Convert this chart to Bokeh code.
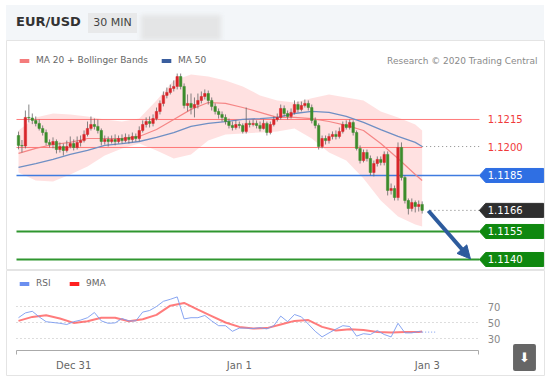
from bokeh.plotting import figure
from bokeh.models import (ColumnDataSource, Range1d, Legend, LegendItem, Label, Arrow,
                          NormalHead, FixedTicker, LinearAxis, Div)
from bokeh.layouts import column
from bokeh.embed import file_html
from bokeh.resources import INLINE
from bokeh.core.properties import value

FONT = "DejaVu Sans"

# ---------------- data (EUR/USD, 30 min candles) ----------------
first_open = 1.12064
close = [
    1.12011, 1.12008, 1.12161, 1.12158, 1.12145, 1.12129, 1.12102, 1.12080, 1.12027, 1.12016,
    1.12032, 1.11989, 1.12005, 1.11984, 1.12005, 1.12021, 1.12000, 1.12027, 1.12037, 1.12070,
    1.12102, 1.12123, 1.12113, 1.12091, 1.12032, 1.12043, 1.12032, 1.12043, 1.12032, 1.12048,
    1.12037, 1.12054, 1.12043, 1.12059, 1.12048, 1.12091, 1.12123, 1.12139, 1.12129, 1.12155,
    1.12193, 1.12236, 1.12279, 1.12295, 1.12316, 1.12327, 1.12380, 1.12327, 1.12225, 1.12236,
    1.12214, 1.12230, 1.12252, 1.12273, 1.12289, 1.12252, 1.12220, 1.12193, 1.12177, 1.12161,
    1.12139, 1.12118, 1.12107, 1.12123, 1.12118, 1.12086, 1.12129, 1.12123, 1.12129, 1.12118,
    1.12102, 1.12129, 1.12080, 1.12123, 1.12150, 1.12161, 1.12209, 1.12182, 1.12166, 1.12188,
    1.12230, 1.12204, 1.12225, 1.12236, 1.12214, 1.12145, 1.12118, 1.12005, 1.12048, 1.12037,
    1.12059, 1.12070, 1.12059, 1.12086, 1.12123, 1.12107, 1.12134, 1.12080, 1.11995, 1.11930,
    1.11973, 1.11941, 1.11866, 1.11914, 1.11936, 1.11920, 1.11963, 1.11770, 1.11780, 1.11732,
    1.12000, 1.11839, 1.11716, 1.11673, 1.11705, 1.11684, 1.11695, 1.11663]
high = [
    1.12085, 1.12040, 1.12198, 1.12230, 1.12182, 1.12166, 1.12150, 1.12118, 1.12096, 1.12043,
    1.12054, 1.12043, 1.12027, 1.12021, 1.12037, 1.12059, 1.12043, 1.12059, 1.12064, 1.12091,
    1.12139, 1.12166, 1.12155, 1.12150, 1.12102, 1.12064, 1.12059, 1.12064, 1.12070, 1.12064,
    1.12070, 1.12075, 1.12070, 1.12080, 1.12075, 1.12113, 1.12145, 1.12161, 1.12166, 1.12177,
    1.12214, 1.12252, 1.12300, 1.12321, 1.12337, 1.12359, 1.12396, 1.12396, 1.12343, 1.12284,
    1.12289, 1.12268, 1.12289, 1.12300, 1.12311, 1.12305, 1.12268, 1.12236, 1.12209, 1.12193,
    1.12177, 1.12155, 1.12139, 1.12145, 1.12139, 1.12129, 1.12214, 1.12145, 1.12150, 1.12145,
    1.12139, 1.12150, 1.12139, 1.12139, 1.12166, 1.12182, 1.12230, 1.12225, 1.12198, 1.12209,
    1.12252, 1.12246, 1.12246, 1.12257, 1.12252, 1.12230, 1.12161, 1.12129, 1.12064, 1.12064,
    1.12075, 1.12086, 1.12091, 1.12107, 1.12139, 1.12145, 1.12150, 1.12145, 1.12091, 1.12011,
    1.11989, 1.11989, 1.11957, 1.11930, 1.11952, 1.11952, 1.11979, 1.11979, 1.11807, 1.11796,
    1.12027, 1.12027, 1.11850, 1.11727, 1.11727, 1.11716, 1.11716, 1.11711]
low = [
    1.11990, 1.11973, 1.11995, 1.12134, 1.12125, 1.12113, 1.12091, 1.12064, 1.12011, 1.12000,
    1.11995, 1.11968, 1.11973, 1.11957, 1.11973, 1.11995, 1.11984, 1.11989, 1.12005, 1.12027,
    1.12059, 1.12091, 1.12096, 1.12075, 1.12011, 1.12016, 1.12005, 1.12021, 1.12011, 1.12021,
    1.12021, 1.12027, 1.12021, 1.12027, 1.12032, 1.12032, 1.12080, 1.12107, 1.12107, 1.12113,
    1.12145, 1.12177, 1.12220, 1.12263, 1.12284, 1.12300, 1.12311, 1.12311, 1.12209, 1.12193,
    1.12177, 1.12161, 1.12209, 1.12236, 1.12257, 1.12230, 1.12198, 1.12177, 1.12155, 1.12139,
    1.12123, 1.12102, 1.12091, 1.12096, 1.12102, 1.12075, 1.12075, 1.12107, 1.12113, 1.12102,
    1.12086, 1.12096, 1.12064, 1.12070, 1.12113, 1.12139, 1.12150, 1.12166, 1.12150, 1.12155,
    1.12177, 1.12188, 1.12193, 1.12214, 1.12198, 1.12129, 1.12102, 1.11989, 1.11995, 1.12016,
    1.12021, 1.12043, 1.12043, 1.12048, 1.12075, 1.12096, 1.12096, 1.12064, 1.11984, 1.11914,
    1.11920, 1.11925, 1.11850, 1.11845, 1.11898, 1.11904, 1.11904, 1.11743, 1.11748, 1.11716,
    1.11716, 1.11823, 1.11700, 1.11641, 1.11657, 1.11652, 1.11657, 1.11646]

# moving averages / Bollinger bands, read every 5 candles
ma_idx = [0, 5, 10, 15, 20, 25, 30, 35, 40, 45, 50, 55, 60, 65, 70, 75, 80, 85, 90, 95,
          100, 105, 110, 115, 117]
ma20 = [1.11968, 1.11995, 1.12016, 1.12027, 1.12048, 1.12048, 1.12048, 1.12059, 1.12096, 1.12150,
        1.12204, 1.12241, 1.12236, 1.12214, 1.12188, 1.12161, 1.12161, 1.12155, 1.12139, 1.12118,
        1.12091, 1.12021, 1.11941, 1.11855, 1.11823]
ma50 = [1.11893, 1.11914, 1.11936, 1.11963, 1.11984, 1.12011, 1.12021, 1.12032, 1.12054, 1.12080,
        1.12113, 1.12129, 1.12139, 1.12150, 1.12155, 1.12161, 1.12182, 1.12193, 1.12188, 1.12166,
        1.12134, 1.12096, 1.12059, 1.12027, 1.12005]
bb_upper = [1.12091, 1.12161, 1.12182, 1.12177, 1.12166, 1.12150, 1.12139, 1.12155, 1.12252, 1.12359,
            1.12391, 1.12380, 1.12359, 1.12327, 1.12279, 1.12252, 1.12241, 1.12263, 1.12284, 1.12268,
            1.12252, 1.12193, 1.12161, 1.12123, 1.12091]
bb_lower = [1.11866, 1.11823, 1.11818, 1.11855, 1.11898, 1.11957, 1.11995, 1.12021, 1.11984, 1.11941,
            1.11963, 1.12037, 1.12070, 1.12075, 1.12080, 1.12086, 1.12102, 1.12048, 1.11973, 1.11930,
            1.11834, 1.11716, 1.11630, 1.11588, 1.11577]

# RSI (every 2 candles) and its 9-period MA (every 4 candles)
rsi_idx = list(range(0, 117, 2)) + [117]
rsi = [56, 62, 64, 57, 51, 50, 49, 47.5, 51, 53,
       56, 62.5, 52, 49, 49.5, 55, 52, 52, 63, 65,
       70, 76.5, 79, 82, 54.5, 56, 56, 58.8, 52, 46,
       46, 39, 43, 43, 42.5, 43.5, 42, 46, 58, 51,
       60, 57, 48, 39, 32, 37, 41.7, 46, 45, 33,
       36, 35, 40, 35, 32, 49, 37, 37, 38.8, 38]
rsi_ma_idx = list(range(0, 117, 4)) + [117]
rsi_ma = [52, 57, 59, 55, 49.5, 51.5, 56, 56, 51.5, 54,
          59.5, 71, 74.5, 66, 58, 50, 44.5, 42.5, 43, 47.5,
          52, 53, 44.5, 40, 41.5, 40.5, 38, 37.5, 38, 38, 38.8]

tick_idx = [16, 64, 118.5]
tick_labels = ["Dec 31", "Jan 1", "Jan 3"]

resistance = [1.1215, 1.1200]
pivot = 1.1185
support = [1.1155, 1.1140]
rsi_levels = [30, 50, 70]

# ---------------- derived ----------------
n = len(close)
idx = list(range(n))
opens = [first_open] + close[:-1]
UP, DOWN = "#d8262b", "#3c8c2c"
colors = [UP if c >= o else DOWN for o, c in zip(opens, close)]
candles = ColumnDataSource(dict(x=idx, h=high, l=low,
                                top=[max(a, b) for a, b in zip(opens, close)],
                                bot=[min(a, b) for a, b in zip(opens, close)],
                                col=colors))

# layout constants (candle-index units / price units)
X_RANGE = (-3.478, 152.46)
LINE_X0, LINE_X1 = -0.58, 133.6
AX_X1 = 133.33
TIP, BODY, RIGHT = 133.6, 135.4, 152.2
HALF = 0.000375
TXT_X = 136.0
W = 550

main = figure(width=W, height=230, x_range=Range1d(*X_RANGE),
              y_range=Range1d(1.11341, 1.12573), x_axis_type=None, y_axis_type=None,
              output_backend="svg", toolbar_location=None,
              min_border_left=6, min_border_right=6, min_border_top=0, min_border_bottom=0,
              outline_line_color="#e4e4e4", background_fill_color="white")

# Bollinger band
main.varea(x=ma_idx, y1=bb_lower, y2=bb_upper, fill_color="#ffdede", fill_alpha=0.9)

# level lines
main.segment(x0=[LINE_X0], y0=[resistance[0]], x1=[LINE_X1], y1=[resistance[0]],
             line_color="#ff6b6b", line_width=1, line_alpha=0.9)
main.segment(x0=[LINE_X0], y0=[resistance[1]], x1=[n - 1], y1=[resistance[1]],
             line_color="#ff6b6b", line_width=1, line_alpha=0.9)
main.segment(x0=[LINE_X0], y0=[pivot], x1=[LINE_X1], y1=[pivot],
             line_color="#3f7be0", line_width=1.5)
main.segment(x0=[LINE_X0] * 2, y0=support, x1=[LINE_X1] * 2, y1=support,
             line_color="#2f962f", line_width=2.2)

# MA lines
main.line(ma_idx, ma20, line_color="#f47c7c", line_width=1.2, line_alpha=0.9)
main.line(ma_idx, ma50, line_color="#6f8fc4", line_width=1.3)
main.segment(x0=[n - 1], y0=[ma50[-1]], x1=[LINE_X1], y1=[ma50[-1]],
             line_color="#888888", line_dash="1 3", line_width=1)

# candles
main.segment("x", "h", "x", "l", source=candles, line_color="#666666", line_alpha=0.8, line_width=1)
main.vbar(x="x", width=0.72, top="top", bottom="bot", source=candles,
          fill_color="col", line_color="col", line_width=0.5)

# current price dotted
main.segment(x0=[119.4], y0=[close[-1]], x1=[LINE_X1], y1=[close[-1]],
             line_color="#777777", line_dash="1 3", line_width=1)

# label boxes
box_levels = [pivot, close[-1], support[0], support[1]]
box_colors = ["#2f6fe3", "#2e2e2e", "#0f880f", "#0f880f"]
box_texts = [f"{v:.4f}" for v in box_levels]
main.patches(xs=[[TIP, BODY, RIGHT, RIGHT, BODY] for _ in box_levels],
             ys=[[v, v + HALF, v + HALF, v - HALF, v - HALF] for v in box_levels],
             fill_color=box_colors, line_color=box_colors)
main.text(x=[TXT_X] * len(box_levels), y=box_levels, text=box_texts, text_color="white",
          text_font=value(FONT), text_font_size="10px", text_baseline="middle")
main.text(x=[TXT_X] * 2, y=resistance, text=[f"{v:.4f}" for v in resistance], text_color="#f03a3a",
          text_font=value(FONT), text_font_size="10px", text_baseline="middle")

# arrow towards target
main.add_layout(Arrow(end=NormalHead(size=13, fill_color="#2d5b9d", line_color="#2d5b9d"),
                      x_start=118.8, y_start=close[-1] - 0.00002,
                      x_end=131.0, y_end=support[1] + 0.00003,
                      line_color="#2d5b9d", line_width=4))

# legend (swatches use one point placed outside the visible range)
lg1 = main.rect(x=[-50], y=[1.1], width=1, height=1, fill_color="#f47c7c", line_color=None)
lg2 = main.rect(x=[-50], y=[1.1], width=1, height=1, fill_color="#3a5e9e", line_color=None)
main.add_layout(Legend(items=[LegendItem(label="MA 20 + Bollinger Bands", renderers=[lg1]),
                              LegendItem(label="MA 50", renderers=[lg2])],
                       location=(12, 205), orientation="horizontal", padding=0, margin=0,
                       spacing=12, glyph_width=12, glyph_height=5, label_height=10,
                       label_standoff=6, label_text_font=FONT, label_text_font_size="9px",
                       label_text_color="#666666", background_fill_alpha=0, border_line_alpha=0))
main.add_layout(Label(x=531, y=210, x_units="screen", y_units="screen",
                      text="Research © 2020 Trading Central", text_align="right",
                      text_baseline="middle", text_font=FONT, text_font_size="9px",
                      text_color="#8a8a8a"))

# ---------------- RSI panel ----------------
rp = figure(width=W, height=106, x_range=Range1d(*X_RANGE), y_range=Range1d(-17.5, 115),
            x_axis_type=None, y_axis_type=None, output_backend="svg", toolbar_location=None,
            min_border_left=6, min_border_right=6, min_border_top=0, min_border_bottom=0,
            outline_line_color="#e4e4e4")

rp.segment(x0=[LINE_X0] * 3, y0=rsi_levels, x1=[AX_X1] * 3, y1=rsi_levels,
           line_color="#bbbbbb", line_dash="1 3", line_width=1)
rp.text(x=[TXT_X] * 3, y=rsi_levels, text=[str(v) for v in rsi_levels], text_color="#888888",
        text_font=value(FONT), text_font_size="10px", text_baseline="middle")

xax = LinearAxis(fixed_location=15.6, bounds=(LINE_X0, AX_X1),
                 ticker=FixedTicker(ticks=tick_idx, minor_ticks=[-0.5, 133.2]))
xax.major_label_overrides = {t: s for t, s in zip(tick_idx, tick_labels)}
xax.axis_line_color = "#aaaaaa"
xax.major_tick_line_color = None
xax.major_tick_out = 0
xax.major_tick_in = 0
xax.minor_tick_out = 4
xax.minor_tick_in = 0
xax.minor_tick_line_color = "#aaaaaa"
xax.major_label_standoff = 6
xax.major_label_text_font = FONT
xax.major_label_text_font_size = "10px"
xax.major_label_text_color = "#666666"
rp.add_layout(xax, "below")

rp.line(rsi_ma_idx, rsi_ma, line_color="#ff5050", line_width=2, line_alpha=0.75)
rp.line(rsi_idx, rsi, line_color="#7b9bf0", line_width=1, line_alpha=0.9)
rp.segment(x0=[n - 1], y0=[rsi[-1]], x1=[121], y1=[rsi[-1]],
           line_color="#7b9bf0", line_dash="1 2", line_width=1)

rg1 = rp.rect(x=[-50], y=[-100], width=1, height=1, fill_color="#6b8ff0", line_color=None)
rg2 = rp.rect(x=[-50], y=[-100], width=1, height=1, fill_color="#ff2020", line_color=None)
rp.add_layout(Legend(items=[LegendItem(label="RSI", renderers=[rg1]),
                            LegendItem(label="9MA", renderers=[rg2])],
                     location=(12, 88), orientation="horizontal", padding=0, margin=0, spacing=12,
                     glyph_width=12, glyph_height=5, label_height=10, label_standoff=6,
                     label_text_font=FONT, label_text_font_size="9px", label_text_color="#666666",
                     background_fill_alpha=0, border_line_alpha=0))
rp.add_layout(Label(x=518, y=19, x_units="screen", y_units="screen", text="⬇",
                    text_align="center", text_baseline="middle", text_color="white",
                    text_font=FONT, text_font_size="13px", background_fill_color="#666666",
                    padding=6, border_radius=2))

header_html = """
<div style="position:relative;width:550px;height:40px;background:white;font-family:'DejaVu Sans',sans-serif;">
 <div style="position:absolute;left:6px;top:5px;width:538px;height:35px;background:#f3f6f9;"></div>
 <span style="position:absolute;left:16px;top:13px;font-size:13px;font-weight:bold;color:#333;">EUR/USD</span>
 <span style="position:absolute;left:88px;top:13px;width:49px;height:20px;line-height:20px;text-align:center;background:#e8e9ea;font-size:11px;color:#444;">30 MIN</span>
 <span style="position:absolute;left:141px;top:15px;width:80px;height:25px;background:#e4e5e6;filter:blur(2px);"></span>
</div>"""
header = Div(text=header_html, width=W, height=40, margin=0)

layout = column(header, main, rp, spacing=0)
open("out.html", "w").write(file_html(layout, INLINE))
